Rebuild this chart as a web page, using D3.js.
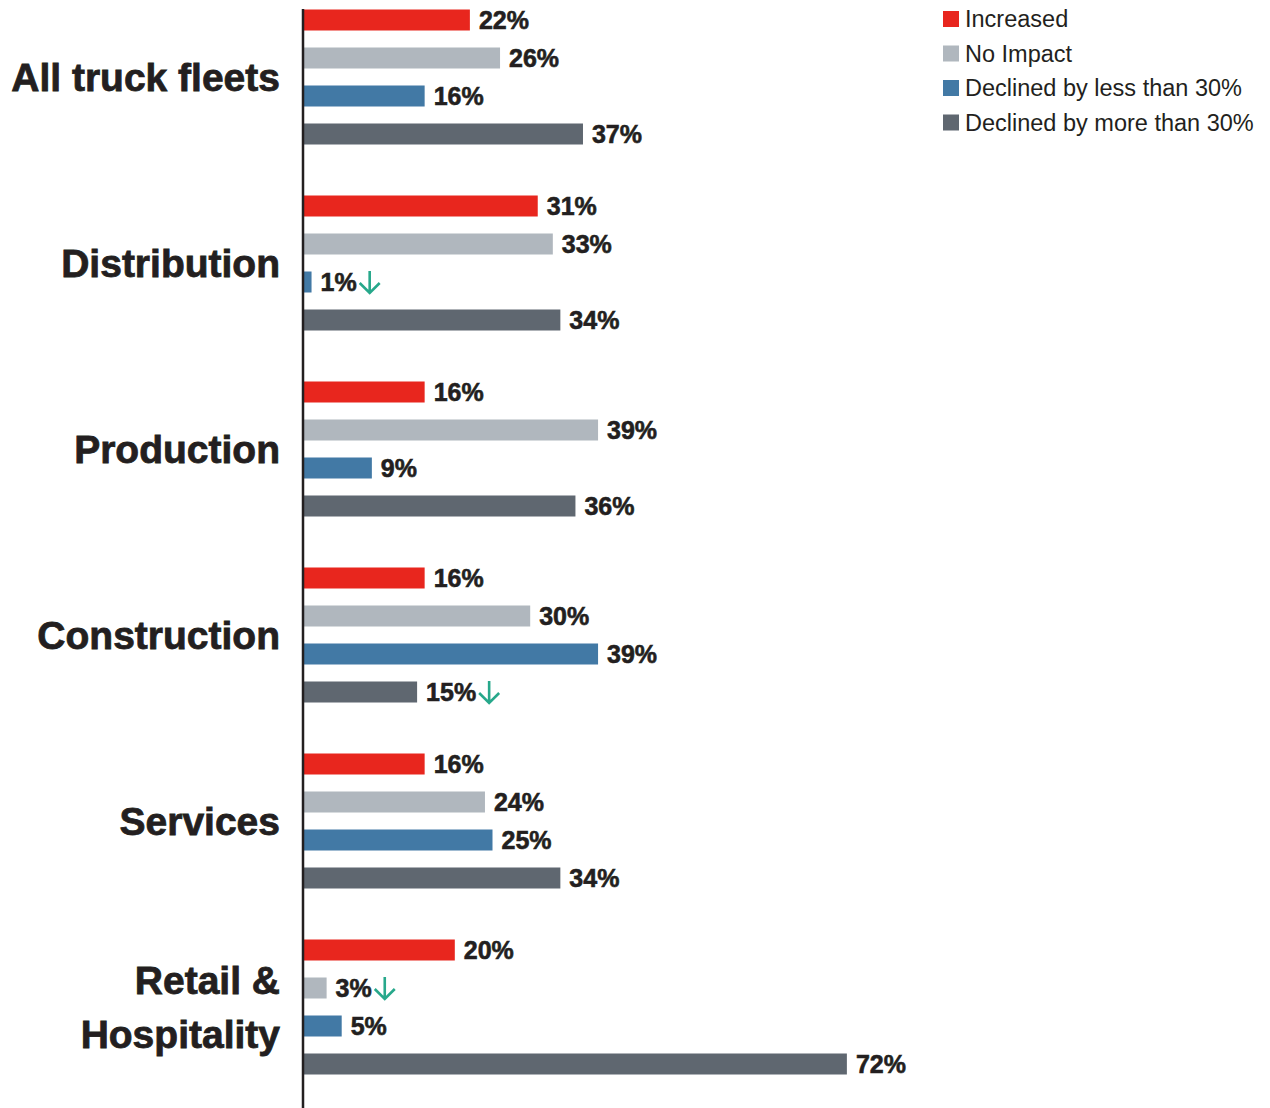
<!DOCTYPE html>
<html>
<head>
<meta charset="utf-8">
<script src="https://cdn.jsdelivr.net/npm/d3@7"></script>
<style>
  html, body { margin: 0; padding: 0; background: #fff; }
  svg { display: block; font-family: "Liberation Sans", Arial, sans-serif; }
</style>
</head>
<body>
<svg id="chart" width="1270" height="1108"></svg>
<script>
// Fleet segments and the change categories reported for each
const categories = ["All truck fleets", "Distribution", "Production", "Construction", "Services", "Retail & Hospitality"];
const categoryLines = [["All truck fleets"], ["Distribution"], ["Production"], ["Construction"], ["Services"], ["Retail &", "Hospitality"]];
const seriesNames = ["Increased", "No Impact", "Declined by less than 30%", "Declined by more than 30%"];
const seriesColors = ["#e8261e", "#b0b7be", "#4279a5", "#5f6770"];

// Share of fleets (%) per series, in category order
const increased    = [22, 31, 16, 16, 16, 20];
const noImpact     = [26, 33, 39, 30, 24, 3];
const declinedLess = [16, 1, 9, 39, 25, 5];
const declinedMore = [37, 34, 36, 15, 34, 72];

// Values flagged with a downward arrow: [category index, series index]
const flagged = [[1, 2], [3, 3], [5, 1]];

const seriesValues = [increased, noImpact, declinedLess, declinedMore];

const svg = d3.select("#chart");
const textColor = "#231f20";
const arrowColor = "#27a88b";

const x = d3.scaleLinear().domain([0, 100]).range([304, 1058]);
const yGroup = d3.scaleBand().domain(categories).range([-16, 1100]).padding(0);
const yBar = d3.scalePoint().domain(seriesNames).range([36, 150]);
const barH = 21;

const rows = [];
categories.forEach((c, ci) => {
  seriesNames.forEach((s, si) => {
    rows.push({ cat: c, ci, series: s, si, value: seriesValues[si][ci] });
  });
});

const cy = d => yGroup(d.cat) + yBar(d.series);

// Bars
svg.append("g").selectAll("rect").data(rows).join("rect")
  .attr("x", x(0))
  .attr("y", d => cy(d) - barH / 2)
  .attr("width", d => x(d.value) - x(0))
  .attr("height", barH)
  .attr("fill", d => seriesColors[d.si]);

// Value labels
const labels = svg.append("g").selectAll("text").data(rows).join("text")
  .attr("x", d => x(d.value) + 9)
  .attr("y", d => cy(d))
  .attr("dy", "0.36em")
  .attr("font-size", 25)
  .attr("font-weight", "bold")
  .attr("fill", textColor)
  .attr("stroke", textColor)
  .attr("stroke-width", 0.6)
  .text(d => d.value + "%");

// Down arrows after flagged labels
labels.each(function (d) {
  if (!flagged.some(f => f[0] === d.ci && f[1] === d.si)) return;
  const end = x(d.value) + 9 + this.getComputedTextLength();
  const ax = end + 13, top = cy(d) - 11, bot = cy(d) + 11;
  svg.append("path")
    .attr("d", `M${ax},${top}V${bot}M${ax - 10},${bot - 10}L${ax},${bot}L${ax + 10},${bot - 10}`)
    .attr("fill", "none")
    .attr("stroke", arrowColor)
    .attr("stroke-width", 2.6);
});

// Category labels
const catG = svg.append("g");
categories.forEach((c, ci) => {
  const lines = categoryLines[ci];
  const center = yGroup(c) + yGroup.bandwidth() / 2;
  const lh = 54;
  lines.forEach((ln, li) => {
    catG.append("text")
      .attr("x", 280)
      .attr("y", center + (li - (lines.length - 1) / 2) * lh)
      .attr("dy", "0.36em")
      .attr("text-anchor", "end")
      .attr("font-size", 39)
      .attr("font-weight", "bold")
      .attr("fill", textColor)
      .attr("stroke", textColor)
      .attr("stroke-width", 0.8)
      .text(ln);
  });
});

// Vertical baseline
svg.append("line")
  .attr("x1", 303).attr("x2", 303)
  .attr("y1", 9).attr("y2", 1108)
  .attr("stroke", textColor)
  .attr("stroke-width", 2.5);

// Legend
const legend = svg.append("g").attr("transform", "translate(943,19)");
const lg = legend.selectAll("g").data(seriesNames).join("g")
  .attr("transform", (d, i) => `translate(0,${i * 34.5})`);
lg.append("rect")
  .attr("x", 0).attr("y", -8).attr("width", 16).attr("height", 16)
  .attr("fill", (d, i) => seriesColors[i]);
lg.append("text")
  .attr("x", 22).attr("y", 0).attr("dy", "0.36em")
  .attr("font-size", 23.5)
  .attr("fill", textColor)
  .text(d => d);
</script>
</body>
</html>
